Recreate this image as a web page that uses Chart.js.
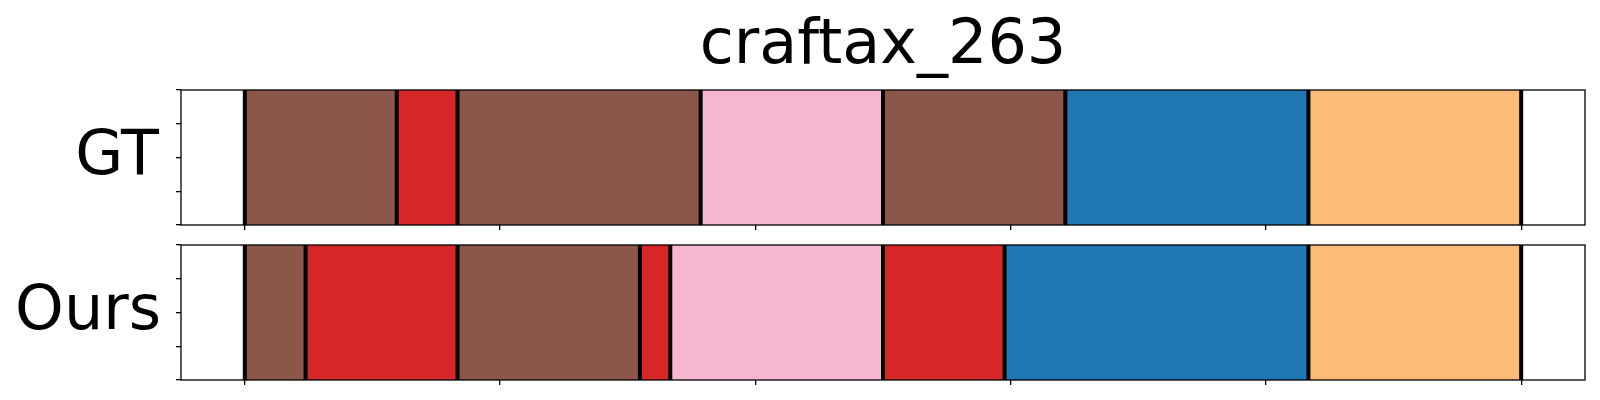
<!DOCTYPE html>
<html>
<head>
<meta charset="utf-8">
<script src="https://cdn.jsdelivr.net/npm/chart.js@4.4.1/dist/chart.umd.min.js"></script>
<style>
  html, body { margin: 0; padding: 0; background: #fff; }
  body { width: 1600px; height: 400px; position: relative; overflow: hidden; font-family: "DejaVu Sans", sans-serif; }
  .panel { position: absolute; left: 0; width: 1600px; height: 160px; }
  .txt { position: absolute; font-size: 62px; line-height: 62px; color: #000; white-space: nowrap; }
</style>
</head>
<body>
<div class="txt" id="title" style="left:83px; width:1600px; top:11px; text-align:center;">craftax_263</div>
<div class="txt" style="left:0; width:159px; top:122px; text-align:right;">GT</div>
<div class="txt" style="left:0; width:161px; top:277px; text-align:right;">Ours</div>
<div class="panel" style="top:80px;"><canvas id="gtChart"></canvas></div>
<div class="panel" style="top:235px;"><canvas id="oursChart"></canvas></div>
<script>
// segment data (frames per segment, in order)
const totalFrames = 42;
const gtLengths = [5, 2, 8, 6, 6, 8, 7];
const gtClasses = ['brown', 'red', 'brown', 'pink', 'brown', 'blue', 'orange'];
const oursLengths = [2, 5, 6, 1, 7, 4, 10, 7];
const oursClasses = ['brown', 'red', 'brown', 'red', 'pink', 'red', 'blue', 'orange'];
const xTicks = [0, 0.2, 0.4, 0.6, 0.8, 1.0];
const yTicks = [0, 0.25, 0.5, 0.75, 1.0];

const classColors = {
  brown: '#8c564b',
  red: '#d62728',
  pink: '#f7b6d2',
  blue: '#1f77b4',
  orange: '#ffbb78'
};

// boundary lines + frame box
const segmentLines = {
  id: 'segmentLines',
  afterDatasetsDraw(chart, args, opts) {
    const { ctx, chartArea } = chart;
    const xs = chart.scales.x;
    ctx.save();
    ctx.strokeStyle = '#000';
    ctx.lineWidth = 4;
    opts.bounds.forEach(b => {
      const px = xs.getPixelForValue(b);
      ctx.beginPath();
      ctx.moveTo(px, chartArea.top);
      ctx.lineTo(px, chartArea.bottom);
      ctx.stroke();
    });
    ctx.lineWidth = 1.3;
    ctx.strokeRect(chartArea.left, chartArea.top, chartArea.right - chartArea.left, chartArea.bottom - chartArea.top);
    ctx.restore();
  }
};

function buildSegments(lengths, classes) {
  let start = 0;
  const data = [];
  const bounds = [0];
  lengths.forEach(len => {
    const end = start + len;
    data.push({ x: [start / totalFrames, end / totalFrames], y: 'row' });
    bounds.push(end / totalFrames);
    start = end;
  });
  return { data, bounds, colors: classes.map(c => classColors[c]) };
}

function renderSegChart(canvasId, lengths, classes) {
  const seg = buildSegments(lengths, classes);
  return new Chart(document.getElementById(canvasId), {
    type: 'bar',
    data: {
      labels: ['row'],
      datasets: [{
        data: seg.data,
        backgroundColor: seg.colors,
        borderWidth: 0,
        barPercentage: 1,
        categoryPercentage: 1,
        yAxisID: 'y'
      }]
    },
    options: {
      indexAxis: 'y',
      responsive: true,
      maintainAspectRatio: false,
      animation: false,
      layout: { padding: { left: 176, right: 15, top: 10, bottom: 10 } },
      plugins: {
        legend: { display: false },
        tooltip: { enabled: false },
        segmentLines: { bounds: seg.bounds }
      },
      scales: {
        x: {
          type: 'linear',
          min: -0.05,
          max: 1.05,
          afterBuildTicks: s => { s.ticks = xTicks.map(v => ({ value: v })); },
          afterFit: s => { s.height = 5; },
          ticks: { display: false },
          border: { display: false },
          grid: { drawOnChartArea: false, drawTicks: true, tickLength: 5, color: '#000', lineWidth: 1.3 }
        },
        y: {
          type: 'category',
          display: false
        },
        yt: {
          type: 'linear',
          position: 'left',
          min: 0,
          max: 1,
          offset: false,
          ticks: { display: false, stepSize: 0.25 },
          afterBuildTicks: s => { s.ticks = yTicks.map(v => ({ value: v })); },
          afterFit: s => { s.width = 5; },
          border: { display: false },
          grid: { offset: false, drawOnChartArea: false, drawTicks: true, tickLength: 5, color: '#000', lineWidth: 1.3 }
        }
      }
    },
    plugins: [segmentLines]
  });
}

renderSegChart('gtChart', gtLengths, gtClasses);
renderSegChart('oursChart', oursLengths, oursClasses);
</script>
</body>
</html>
